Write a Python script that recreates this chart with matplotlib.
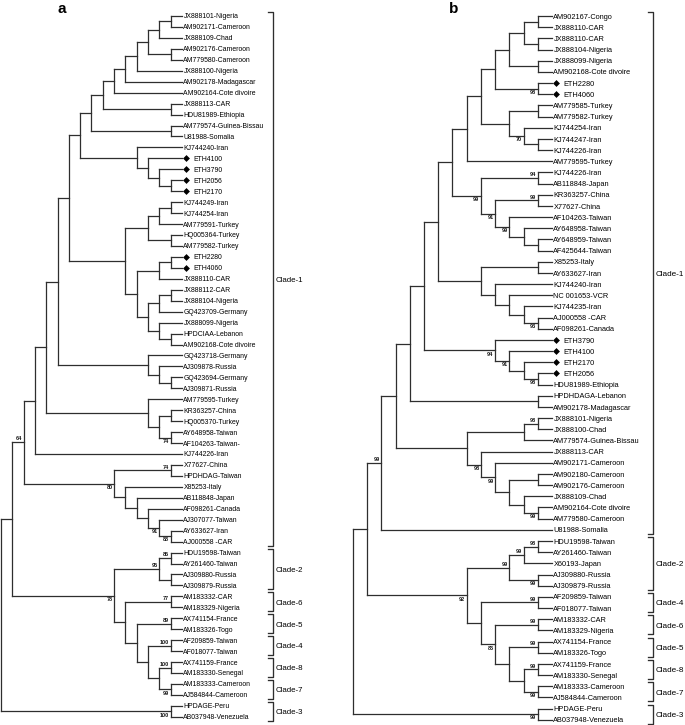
import matplotlib
matplotlib.use("Agg")
import matplotlib.pyplot as plt
from matplotlib.collections import LineCollection
from matplotlib import font_manager

# ---- panel a: leaves top to bottom, topology as newick on leaf indices (numbers after ')' = bootstrap)
leaves_a = ["JX888101-Nigeria", "AM902171-Cameroon", "JX888109-Chad", "AM902176-Cameroon",
            "AM779580-Cameroon", "JX888100-Nigeria", "AM902178-Madagascar", "AM902164-Cote divoire",
            "JX888113-CAR", "HDU81989-Ethiopia", "AM779574-Guinea-Bissau", "U81988-Somalia",
            "KJ744240-Iran", "ETH4100", "ETH3790", "ETH2056", "ETH2170",
            "KJ744249-Iran", "KJ744254-Iran", "AM779591-Turkey", "HQ005364-Turkey", "AM779582-Turkey",
            "ETH2280", "ETH4060", "JX888110-CAR", "JX888112-CAR", "JX888104-Nigeria",
            "GQ423709-Germany", "JX888099-Nigeria", "HPDCIAA-Lebanon", "AM902168-Cote divoire",
            "GQ423718-Germany", "AJ309878-Russia", "GQ423694-Germany", "AJ309871-Russia",
            "AM779595-Turkey", "KR363257-China", "HQ005370-Turkey", "AY648958-Taiwan",
            "AF104263-Taiwan-", "KJ744226-Iran", "X77627-China", "HPDHDAG-Taiwan", "X85253-Italy",
            "AB118848-Japan", "AF098261-Canada", "AJ307077-Taiwan", "AY633627-Iran", "AJ000558 -CAR",
            "HDU19598-Taiwan", "AY261460-Taiwan", "AJ309880-Russia", "AJ309879-Russia",
            "AM183332-CAR", "AM183329-Nigeria", "AX741154-France", "AM183326-Togo",
            "AF209859-Taiwan", "AF018077-Taiwan", "AX741159-France", "AM183330-Senegal",
            "AM183333-Cameroon", "AJ584844-Cameroon", "HPDAGE-Peru", "AB037948-Venezuela"]

ta_africa = "((((((((0,1),2),(3,4)),5),6),7),(8,9)),(10,11))"
ta_eth = "(12,(13,(14,(15,16))))"
ta_iran = "((((17,18),19),(20,21)),(((22,23),24),(((25,26),27),(28,(29,30)))))"
ta_germany = "(31,(32,(33,34)))"
ta_turkey = "(35,((36,37),(38,39)74))"
ta_asia = "((41,42)74,(43,(44,(45,(46,(47,48)88)91))))80"
ta_c2 = "((49,50)86,(51,52))95"
ta_c48 = "((53,54)77,((55,56)89,((57,58)100,((59,60)100,(61,62)99))))"
ta_c3 = "(63,64)100"
tree_a = (f"(((((((({ta_africa},{ta_eth}),{ta_iran}),{ta_germany}),{ta_turkey}),40),"
          f"{ta_asia})64,({ta_c2},{ta_c48})78),{ta_c3})")

clades_a = ["Clade-1", "Clade-2", "Clade-6", "Clade-5", "Clade-4", "Clade-8", "Clade-7", "Clade-3"]
clade_first_a = [0, 49, 53, 55, 57, 59, 61, 63]
clade_last_a = [48, 52, 54, 56, 58, 60, 62, 64]

# ---- panel b
leaves_b = ["AM902167-Congo", "JX888110-CAR", "JX888110-CAR", "JX888104-Nigeria", "JX888099-Nigeria",
            "AM902168-Cote divoire", "ETH2280", "ETH4060", "AM779585-Turkey", "AM779582-Turkey",
            "KJ744254-Iran", "KJ744247-Iran", "KJ744226-Iran", "AM779595-Turkey", "KJ744226-Iran",
            "AB118848-Japan", "KR363257-China", "X77627-China", "AF104263-Taiwan", "AY648958-Taiwan",
            "AY648959-Taiwan", "AF425644-Taiwan", "X85253-Italy", "AY633627-Iran", "KJ744240-Iran",
            "NC 001653-VCR", "KJ744235-Iran", "AJ000558 -CAR", "AF098261-Canada",
            "ETH3790", "ETH4100", "ETH2170", "ETH2056", "HDU81989-Ethiopia",
            "HPDHDAGA-Lebanon", "AM902178-Madagascar", "JX888101-Nigeria", "JX888100-Chad",
            "AM779574-Guinea-Bissau", "JX888113-CAR", "AM902171-Cameroon", "AM902180-Cameroon",
            "AM902176-Cameroon", "JX888109-Chad", "AM902164-Cote divoire", "AM779580-Cameroon",
            "U81988-Somalia", "HDU19598-Taiwan", "AY261460-Taiwan", "X60193-Japan",
            "AJ309880-Russia", "AJ309879-Russia", "AF209859-Taiwan", "AF018077-Taiwan",
            "AM183332-CAR", "AM183329-Nigeria", "AX741154-France", "AM183326-Togo",
            "AX741159-France", "AM183330-Senegal", "AM183333-Cameroon", "AJ584844-Cameroon",
            "HPDAGE-Peru", "AB037948-Venezuela"]

tb_congo = "((((0,1),(2,3)),(4,5)),(6,7)98)"
tb_turkey = "((8,9),(10,(11,12))70)"
tb_asia = "((14,15)94,((16,17)99,(18,(19,(20,21)))99)91)99"
tb_vcr = "((22,23),(24,(25,(26,(27,28)93))))"
tb_eth = "(29,(30,(31,(32,33)98))91)94"
tb_leb = "(34,35)"
tb_africa = "(((36,37)98,38),(39,(40,((41,42),(43,(44,45)99)))99)98)"
tb_c2 = "(((47,48)98,49)99,(50,51)99)99"
tb_c47 = "((52,53)99,((54,55)99,((56,57)99,((58,59)99,(60,61)99)))83)"
tb_c3 = "(62,63)99"
tree_b = (f"(((((((((({tb_congo},{tb_turkey}),13),{tb_asia}),{tb_vcr}),{tb_eth}),{tb_leb}),"
          f"{tb_africa}),46)99,({tb_c2},{tb_c47})92),{tb_c3})")

clades_b = ["Clade-1", "Clade-2", "Clade-4", "Clade-6", "Clade-5", "Clade-8", "Clade-7", "Clade-3"]
clade_first_b = [0, 47, 52, 54, 56, 58, 60, 62]
clade_last_b = [46, 51, 53, 55, 57, 59, 61, 63]

W, H = 685, 725
LINE = "#2e2e2e"

fonts = {f.name for f in font_manager.fontManager.ttflist}
if "Liberation Sans Narrow" in fonts:
    FAM, SCALE = "Liberation Sans Narrow", 1.0
else:
    FAM, SCALE = "Liberation Sans", 0.84


def parse(s):
    pos = 0

    def label():
        nonlocal pos
        start = pos
        while pos < len(s) and s[pos] not in "(),":
            pos += 1
        return s[start:pos]

    def node():
        nonlocal pos
        if s[pos] == "(":
            pos += 1
            kids = [node()]
            while s[pos] == ",":
                pos += 1
                kids.append(node())
            pos += 1
            return {"kids": kids, "boot": label()}
        return {"leaf": int(label())}

    return node()


def layout(n):
    if "leaf" in n:
        n["h"], n["y"] = 0, n["leaf"]
        return
    for k in n["kids"]:
        layout(k)
    n["h"] = 1 + max(k["h"] for k in n["kids"])
    n["y"] = (n["kids"][0]["y"] + n["kids"][-1]["y"]) / 2


def draw_panel(fig, leaves, newick, clades, firsts, lasts, letter, g):
    ax = fig.add_axes([g["left"] / W, 0, g["width"] / W, 1])
    sx, sy = g["sx"], g["sy"]
    ax.set_xlim(-g["x0"] / sx, (g["width"] - g["x0"]) / sx)
    ax.set_ylim((H - g["y0"]) / sy, -g["y0"] / sy)
    ax.axis("off")
    leaf_fs = g["leaf_fs"] * SCALE
    clade_fs = g["clade_fs"] * SCALE

    root = parse(newick)
    layout(root)
    top = root["h"]
    segs, boots = [], []

    def walk(n, px, first):
        x = top - n["h"]
        if px is not None:
            segs.append([(px, n["y"]), (x, n["y"])])
        if "kids" in n:
            segs.append([(x, n["kids"][0]["y"]), (x, n["kids"][-1]["y"])])
            if n["boot"]:
                boots.append((x, n["y"], n["boot"], first))
            for j, k in enumerate(n["kids"]):
                walk(k, x, j == 0)

    walk(root, None, True)
    ax.add_collection(LineCollection(segs, colors=LINE, linewidths=0.9, capstyle="projecting"))

    base = 0.36 * leaf_fs * 100 / 72 / sy
    for i, name in enumerate(leaves):
        if name.startswith("ETH"):
            ax.plot(top + 4.5 / sx, i, marker="D", ms=3.5, color="black", mew=0)
            ax.text(top + 11 / sx, i + base, name, fontsize=leaf_fs, family=FAM, va="baseline")
        else:
            ax.text(top + 1.5 / sx, i + base, name, fontsize=leaf_fs, family=FAM, va="baseline")

    for x, y, b, first in boots:
        if first:
            ax.text(x - 1.5 / sx, y - 0.8 / sy, b, fontsize=g["boot_fs"], fontweight="bold",
                    family="Liberation Sans", ha="right", va="bottom", color="#1a1a1a")
        else:
            ax.text(x - 1.5 / sx, y + 1.2 / sy, b, fontsize=g["boot_fs"], fontweight="bold",
                    family="Liberation Sans", ha="right", va="top", color="#1a1a1a")

    bx = top + g["bracket"] / sx
    cbase = 0.36 * clade_fs * 100 / 72 / sy
    for name, a, b in zip(clades, firsts, lasts):
        y1, y2 = a - 4 / sy, b + 4 / sy
        ax.plot([bx - 4.5 / sx, bx, bx, bx - 4.5 / sx], [y1, y1, y2, y2], color=LINE, lw=0.95)
        ax.text(bx + 2.5 / sx, (y1 + y2) / 2 + cbase, name, fontsize=clade_fs, family=FAM,
                va="baseline")

    fig.text(g["letter"] / W, 1 - 13 / H, letter, fontsize=11, fontweight="bold",
             family="Liberation Sans", va="baseline")


fig = plt.figure(figsize=(W / 100, H / 100), dpi=100)
draw_panel(fig, leaves_a, tree_a, clades_a, clade_first_a, clade_last_a, "a",
           dict(left=0, width=340, x0=1, sx=11.31, y0=16, sy=10.95, bracket=91, letter=58,
                leaf_fs=5.9, clade_fs=6.8, boot_fs=4.0))
draw_panel(fig, leaves_b, tree_b, clades_b, clade_first_b, clade_last_b, "b",
           dict(left=340, width=345, x0=13, sx=14.21, y0=16, sy=11.17, bracket=101, letter=449,
                leaf_fs=6.3, clade_fs=7.0, boot_fs=4.0))
fig.savefig("out.png", dpi=100)
